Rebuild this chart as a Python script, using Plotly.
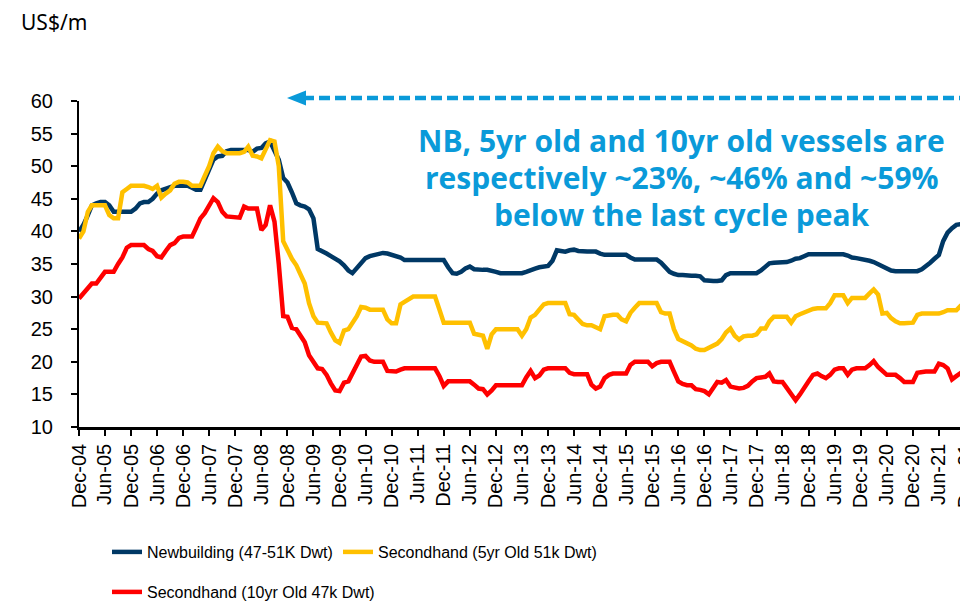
import pandas as pd
import plotly.graph_objects as go

# ---------------- data (US$ m, monthly from Dec-04) ----------------
newbuilding = [
    40, 41, 42.5, 44, 44.3, 44.5, 44.5, 44, 43, 43, 43, 43,
    43, 43.5, 44.3, 44.5, 44.5, 45, 45.8, 46.3, 46.5, 46.8, 47, 47,
    47, 47, 46.7, 46.4, 46.4, 48, 49.5, 51, 51.5, 51.6, 52.3, 52.5,
    52.5, 52.5, 52.5, 52.5, 52.2, 52.7, 52.8, 53.5, 53.8, 52.5, 51, 48.2,
    47.5, 46, 44.3, 44, 43.8, 43.4, 42, 37.3, 37, 36.6, 36.2, 35.8,
    35.4, 34.8, 34, 33.6, 34.3, 35.2, 35.9, 36.2, 36.4, 36.5, 36.7, 36.6,
    36.4, 36.1, 36, 35.6, 35.6, 35.6, 35.6, 35.6, 35.6, 35.6, 35.6, 35.6,
    35.6, 34.5, 33.6, 33.5, 33.8, 34.3, 34.6, 34.2, 34.1, 34.1, 34.1, 34,
    33.8, 33.6, 33.6, 33.6, 33.6, 33.6, 33.6, 33.8, 34.1, 34.3, 34.5, 34.6,
    34.7, 35.5, 37.1, 37, 36.9, 37.1, 37.2, 37, 36.9, 36.9, 36.9, 36.9,
    36.6, 36.4, 36.4, 36.4, 36.4, 36.4, 36.4, 36, 35.7, 35.7, 35.7, 35.7,
    35.7, 35.7, 35.2, 34.5, 33.8, 33.5, 33.3, 33.3, 33.2, 33.2, 33.2, 33.1,
    32.5, 32.4, 32.4, 32.4, 32.5, 33.3, 33.6, 33.6, 33.6, 33.6, 33.6, 33.6,
    33.6, 34, 34.7, 35.1, 35.2, 35.2, 35.3, 35.3, 35.5, 35.8, 35.9, 36.2,
    36.5, 36.5, 36.5, 36.5, 36.5, 36.5, 36.5, 36.5, 36.5, 36.3, 36, 35.9,
    35.8, 35.7, 35.5, 35.3, 35, 34.6, 34.3, 34, 33.9, 33.9, 33.9, 33.9,
    33.9, 33.9, 34.2, 34.6, 35.2, 35.8, 36.4, 38.5, 39.8, 40.5, 41, 41.1,
    41.1, 41.1,
]

secondhand_5yr = [
    38.9, 40, 43, 44, 44, 44, 44, 42.5, 42, 42, 46, 46.5,
    47, 47, 47, 47, 46.8, 46.5, 47, 45.2, 45.8, 46.3, 47.3, 47.6,
    47.6, 47.5, 47, 47, 47, 48.5, 50, 52, 53, 52.3, 52, 52,
    52, 52, 52.2, 53, 51.6, 51.5, 51.2, 52.5, 54, 53.8, 50, 38.5,
    37, 35.8, 34.8, 33.5, 32, 29, 27, 26, 25.9, 25.9, 24.5, 23.3,
    22.9, 24.8, 25, 26, 27, 28.4, 28.3, 28, 28, 28, 28, 26.5,
    25.9, 25.9, 28.8, 29.2, 29.6, 30, 30, 30, 30, 30, 30, 28,
    26, 26, 26, 26, 26, 26, 26, 24.3, 24.1, 24, 22, 24.2,
    25, 25, 25, 25, 25, 25, 24, 25, 26.8, 27.2, 28, 28.8,
    29, 29, 29, 29, 29, 27.3, 27.2, 26.5, 25.8, 25.6, 25.6, 25.3,
    25, 27, 27.2, 27.2, 27.2, 26.5, 26.2, 27.5, 28.3, 29, 29, 29,
    29, 29, 27.6, 27.4, 27.4, 25, 23.5, 23.2, 23, 22.5, 22, 21.8,
    21.8, 22.2, 22.6, 22.8, 23.5, 24.5, 25.1, 24, 23.4, 23.9, 24, 24,
    24.2, 25.1, 25.1, 26.2, 26.9, 26.9, 26.9, 26.9, 26, 27, 27.3, 27.6,
    27.8, 28.1, 28.2, 28.2, 28.2, 29, 30.2, 30.2, 30.2, 29, 29.8, 29.8,
    29.8, 29.8, 30.5, 31.1, 30.3, 27.4, 27.5, 26.7, 26.2, 25.9, 25.9, 25.9,
    26, 27.2, 27.4, 27.4, 27.4, 27.4, 27.4, 27.6, 27.9, 27.9, 27.9, 28.6,
    29.1, 29.1,
]

secondhand_10yr = [
    29.7, 30.5, 31.5, 32, 32, 33, 33.8, 33.8, 33.8, 35, 36, 37.5,
    37.9, 37.9, 37.9, 37.9, 37.3, 37, 36.2, 36, 37, 37.9, 38.2, 39,
    39.2, 39.2, 39.2, 40.5, 42, 42.8, 44, 45.1, 44.5, 43, 42.3, 42.2,
    42.2, 42.1, 43.8, 43.5, 43.5, 43.5, 40.2, 41, 44, 41.5, 35, 27,
    26.9, 25.2, 25, 24, 23, 21, 20, 19, 18.9, 18, 16.7, 15.6,
    15.5, 16.8, 17, 18.3, 19.5, 20.8, 20.9, 20.2, 20, 20, 20, 18.6,
    18.5, 18.5, 18.8, 19, 19, 19, 19, 19, 19, 19, 19, 17.8,
    16.3, 17, 17, 17, 17, 17, 17, 16.5, 15.9, 15.8, 15, 15.6,
    16.4, 16.4, 16.4, 16.4, 16.4, 16.4, 16.4, 17.6, 18.6, 17.5, 17.9, 18.8,
    19, 19, 19, 19, 19, 18.3, 18.1, 18.1, 18.1, 18.1, 16.5, 15.9,
    16.2, 17.5, 18, 18.2, 18.2, 18.2, 18.2, 19.5, 20, 20, 20, 20,
    19.3, 19.8, 20, 20, 20, 18.5, 17, 16.6, 16.4, 16.4, 15.8, 15.7,
    15.5, 15, 16, 16.9, 16.8, 17.2, 16.2, 16, 15.9, 16, 16.3, 17,
    17.5, 17.6, 17.7, 18.2, 17, 16.9, 16.9, 16, 15, 14.1, 15, 15.9,
    17, 18, 18.2, 17.8, 17.5, 18, 18.8, 19, 19, 18, 18.8, 19,
    19, 19, 19.5, 20.1, 19.2, 18.5, 18, 18, 18, 17.5, 16.9, 16.9,
    16.9, 18.3, 18.5, 18.5, 18.5, 18.5, 19.7, 19.5, 19, 17.3, 17.8, 18.3,
    18.3, 18.3,
]

series_names = [
    "Newbuilding (47-51K Dwt)",
    "Secondhand (5yr Old 51k Dwt)",
    "Secondhand (10yr Old 47k Dwt)",
]
note_lines = [
    "NB, 5yr old and 10yr old vessels are",
    "respectively ~23%, ~46% and ~59%",
    "below the last cycle peak",
]
unit_label = "US$/m"
y_ticks = [10, 15, 20, 25, 30, 35, 40, 45, 50, 55, 60]

n = min(len(newbuilding), len(secondhand_5yr), len(secondhand_10yr))
months = pd.date_range("2004-12-01", periods=n, freq="MS")

# ---------------- layout geometry ----------------
# the page body has an 8px margin, so the figure is drawn 8px in and sized to fit
OFF = 8
W, H = 968 - OFF, 603 - OFF
L, R, T, B = 79 - OFF, 0, 101 - OFF, 603 - 427
PW, PH = W - L - R, H - T - B


def px(x):
    return (x - OFF - L) / PW


def py(y):
    return (H - B - (y - OFF)) / PH


NAVY = "#003865"
YELLOW = "#FFC000"
RED = "#FF0000"
BLUE = "#0A9AD9"

fig = go.Figure()
fig.add_trace(go.Scatter(x=months, y=newbuilding[:n], name=series_names[0], mode="lines",
                         line=dict(color=NAVY, width=4.5), legend="legend"))
fig.add_trace(go.Scatter(x=months, y=secondhand_5yr[:n], name=series_names[1], mode="lines",
                         line=dict(color=YELLOW, width=4.5), legend="legend2"))
fig.add_trace(go.Scatter(x=months, y=secondhand_10yr[:n], name=series_names[2], mode="lines",
                         line=dict(color=RED, width=4.5), legend="legend3"))

legend_font = dict(family="Liberation Sans, Arial, sans-serif", size=16, color="#000000")


def legend_at(x, y):
    return dict(orientation="h", x=px(x), xanchor="left", y=py(y), yanchor="middle",
                font=legend_font, bgcolor="rgba(0,0,0,0)", itemclick=False,
                itemdoubleclick=False)


fig.update_layout(
    width=W, height=H,
    margin=dict(l=L, r=R, t=T, b=B, pad=0, autoexpand=False),
    paper_bgcolor="white", plot_bgcolor="white",
    font=dict(family="Liberation Sans, Arial, sans-serif", color="#000000"),
    showlegend=True,
    legend=legend_at(107, 552),
    legend2=legend_at(338, 552),
    legend3=legend_at(107, 592),
    xaxis=dict(
        type="date", automargin=False,
        range=["2004-12-01", "2021-12-22"],
        tick0="2004-12-01", dtick="M6", tickformat="%b-%y",
        tickangle=-90, ticklabeloverflow="allow",
        ticks="outside", ticklen=6, tickwidth=2, tickcolor="#000000",
        showline=True, linecolor="#000000", linewidth=2.5,
        showgrid=False, zeroline=False,
        tickfont=dict(family="Liberation Sans, Arial, sans-serif", size=20, color="#000000"),
    ),
    yaxis=dict(
        range=[10, 60], tickvals=y_ticks, automargin=False,
        ticks="outside", ticklen=6, tickwidth=2, tickcolor="#000000",
        showline=True, linecolor="#000000", linewidth=2,
        showgrid=False, zeroline=False,
        ticklabelstandoff=14,
        tickfont=dict(family="Liberation Sans, Arial, sans-serif", size=20, color="#000000"),
    ),
)

# unit label
fig.add_annotation(text=unit_label, xref="paper", yref="paper", x=px(19), y=py(22),
                   xanchor="left", yanchor="middle", showarrow=False,
                   font=dict(family="Noto Sans, Open Sans, sans-serif", size=21, color="#000000"))

# blue note
for i, line in enumerate(note_lines):
    fig.add_annotation(text="<b>%s</b>" % line, xref="paper", yref="paper",
                       x=px(681.5), y=py([140, 177.5, 214.5][i]), xanchor="center", yanchor="middle",
                       showarrow=False,
                       font=dict(family="Open Sans, Noto Sans, sans-serif", size=30, color=BLUE))

# dashed arrow
fig.add_shape(type="line", xref="paper", yref="paper",
              x0=px(303), x1=px(968), y0=py(98), y1=py(98),
              line=dict(color=BLUE, width=4.5, dash="11px,5px"))
fig.add_shape(type="path", xref="paper", yref="paper",
              path="M %f,%f L %f,%f L %f,%f Z" % (px(287), py(98), px(306), py(90.5), px(306), py(105.5)),
              fillcolor=BLUE, line=dict(color=BLUE, width=0))

fig.write_html("out.html")
